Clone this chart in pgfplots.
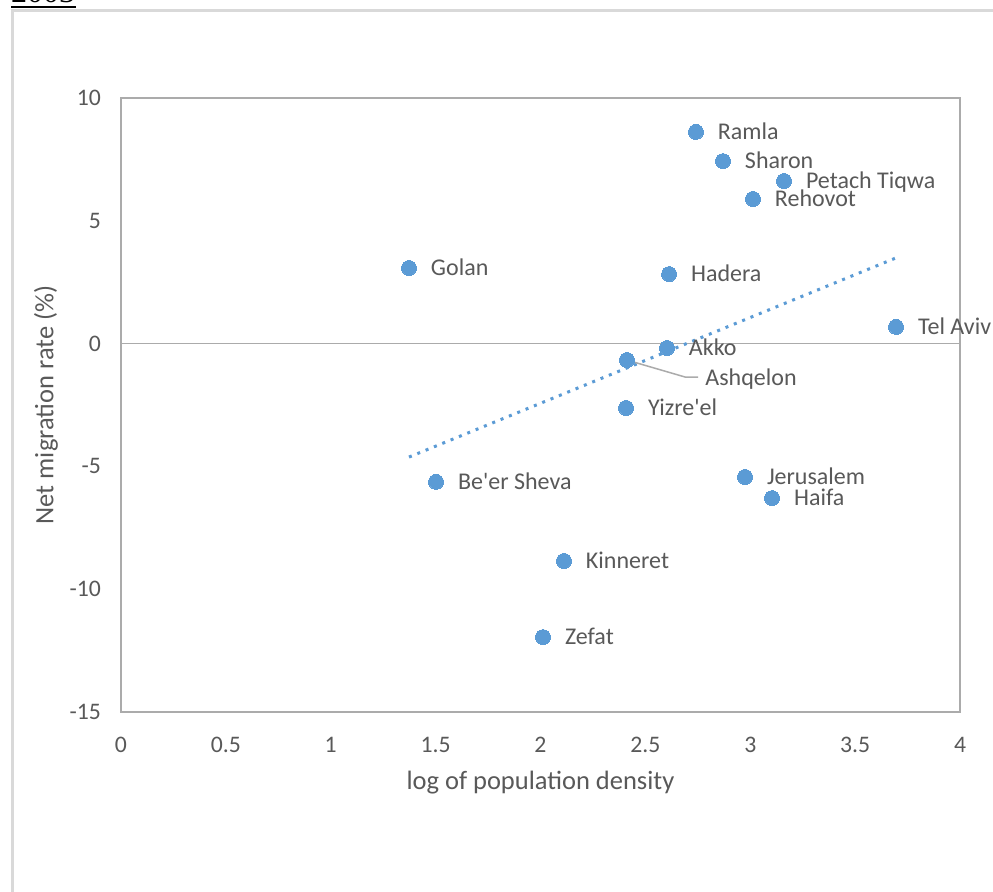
\documentclass[border=0pt]{standalone}
\usepackage{pgfplots}
\pgfplotsset{compat=1.18}
\usepackage{fontspec}
\setmainfont{Carlito}
\newfontfamily\seriffont{Liberation Serif}
\definecolor{exblue}{HTML}{5B9BD5}
\definecolor{txtgray}{HTML}{595959}
\definecolor{framegray}{HTML}{ABABAB}
\definecolor{bordergray}{HTML}{D9D9D9}
\pgfplotstableread[col sep=comma]{
x,y,label
2.741,8.62,Ramla
2.870,7.43,Sharon
3.161,6.62,Petach Tiqwa
3.013,5.89,Rehovot
1.373,3.08,Golan
2.613,2.83,Hadera
3.695,0.68,Tel Aviv
2.603,-0.18,Akko
2.408,-2.62,Yizre\textquotesingle el
2.975,-5.43,Jerusalem
3.104,-6.29,Haifa
1.502,-5.63,Be\textquotesingle er Sheva
2.112,-8.85,Kinneret
2.012,-11.95,Zefat
}\maindata
\pgfplotstableread[col sep=comma]{
x,y,label
2.412,-0.67,Ashqelon
}\ashdata
\begin{document}
\begin{tikzpicture}
\begin{scope}
\clip (0,0) rectangle (993bp,-892bp);
\fill[white] (0,0) rectangle (993bp,-892bp);
\draw[bordergray, line width=2.5bp] (12.5bp,-900bp) -- (12.5bp,-10.5bp) -- (1000bp,-10.5bp);
\node[anchor=base west, inner sep=0pt] at (11bp,-2bp) {\seriffont\fontsize{32bp}{36bp}\selectfont 2003};
\draw[black, line width=2bp] (11bp,-6.5bp) -- (76bp,-6.5bp);
\begin{axis}[
  at={(121bp,-98bp)}, anchor=north west,
  scale only axis, width=839bp, height=614bp,
  xmin=0, xmax=4, ymin=-15, ymax=10,
  xtick={0,0.5,1,1.5,2,2.5,3,3.5,4},
  ytick={-15,-10,-5,0,5,10},
  major tick length=0pt,
  axis line style={framegray, line width=1.5bp},
  /pgf/number format/assume math mode=true,
  ticklabel style={font=\fontsize{23.7bp}{28bp}\selectfont, text=txtgray, inner sep=0pt},
  xticklabel style={anchor=north, yshift=-25bp},
  yticklabel style={anchor=east, xshift=-20bp},
  xlabel={log of population density},
  ylabel={Net migration rate (\%)},
  label style={font=\fontsize{26.5bp}{30bp}\selectfont, text=txtgray},
  xlabel style={at={(axis description cs:0.5,-0.1156)}, anchor=center},
  ylabel style={at={(axis description cs:-0.0894,0.5)}, anchor=center},
  clip=false,
]
\addplot[framegray, line width=1.5bp] coordinates {(0,0) (4,0)};
\addplot[exblue, line width=3bp, dash pattern=on 3bp off 6bp] coordinates {(1.373,-4.62) (3.695,3.49)};
\addplot[exblue, only marks, mark=*, mark size=7.5bp, mark options={fill=exblue, draw=exblue, line width=0pt},
  nodes near coords, point meta=explicit symbolic,
  nodes near coords style={anchor=base west, inner sep=0pt, xshift=22bp, yshift=-7.6bp,
    font=\fontsize{24bp}{28bp}\selectfont, text=txtgray}]
  table[x=x, y=y, meta=label] {\maindata};
\addplot[exblue, only marks, mark=*, mark size=7.5bp, mark options={fill=exblue, draw=exblue, line width=0pt},
  nodes near coords, point meta=explicit symbolic,
  nodes near coords style={anchor=base west, inner sep=0pt, xshift=78.5bp, yshift=-25.7bp,
    font=\fontsize{24bp}{28bp}\selectfont, text=txtgray}]
  table[x=x, y=y, meta=label] {\ashdata};
\addplot[framegray, line width=1.5bp] coordinates {(2.412,-0.67) (2.689,-1.36) (2.751,-1.36)};
\end{axis}
\end{scope}
\pgfresetboundingbox
\useasboundingbox (0,0) rectangle (993bp,-892bp);
\end{tikzpicture}
\end{document}
